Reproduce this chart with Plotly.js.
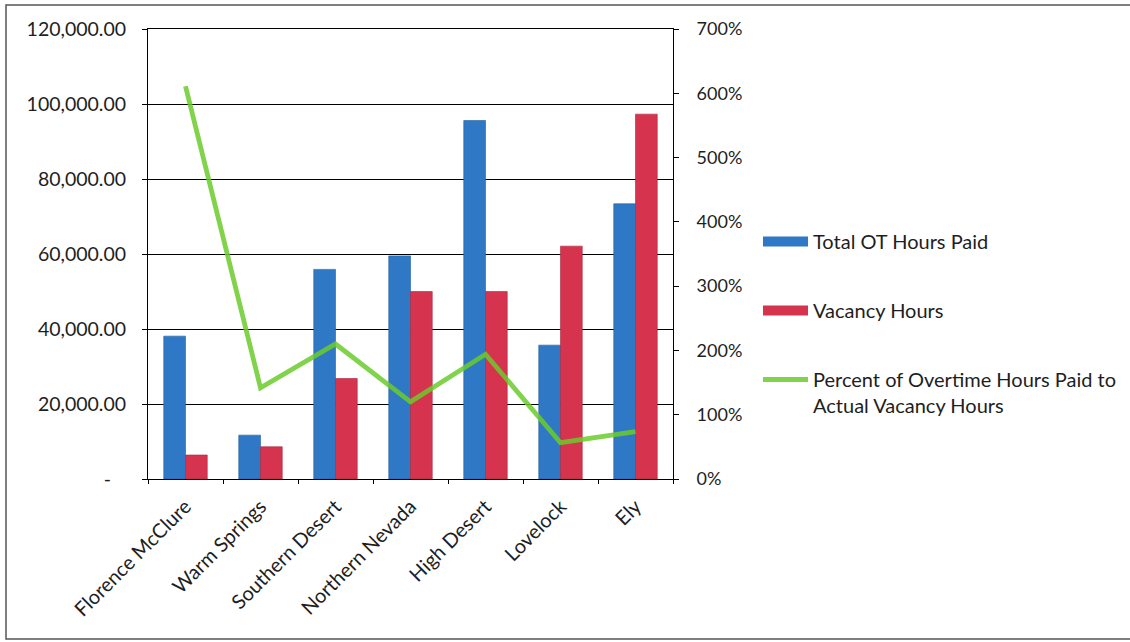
<!DOCTYPE html>
<html>
<head>
<meta charset="utf-8">
<script src="https://cdn.plot.ly/plotly-3.0.1.min.js"></script>
<style>
  html, body { margin: 0; padding: 0; background: #ffffff; }
  #chart { width: 1130px; height: 642px; }
</style>
</head>
<body>
<div id="chart"></div>
<script>
// Facilities compared
const facilities = ["Florence McClure", "Warm Springs", "Southern Desert", "Northern Nevada",
                    "High Desert", "Lovelock", "Ely"];

// Hours per facility
const otHoursPaid   = [38100, 11700, 55900, 59500, 95600, 35700, 73400];
const vacancyHours  = [6400, 8600, 26800, 50000, 50000, 62100, 97300];

// Overtime paid as a share of vacancy hours (1 = 100%)
const otToVacancy   = [6.11, 1.42, 2.10, 1.20, 1.94, 0.565, 0.736];

// Left axis labels (accounting style, zero shown as a dash)
const hourTicks     = [0, 20000, 40000, 60000, 80000, 100000, 120000];
const hourTickText  = ["-\u00a0\u00a0\u00a0", "20,000.00", "40,000.00", "60,000.00",
                       "80,000.00", "100,000.00", "120,000.00"];

const FONT = "Lato, 'Open Sans', sans-serif";
const INK = "#1e1e1e";
const W = 1130, H = 642;
const M = { l: 148, r: 457, t: 29, b: 163, autoexpand: false };
const plotW = W - M.l - M.r, plotH = H - M.t - M.b;
// pixel -> paper helpers for the legend and the outer frame
const px = x => (x - M.l) / plotW;
const py = y => (H - M.b - y) / plotH;

const BLUE = "#2f78c6", RED = "#d6334f", GREEN = "#6acb2a";

const traces = [
  {
    type: "bar", name: "Total OT Hours Paid",
    x: facilities, y: otHoursPaid,
    marker: { color: BLUE, line: { color: "#24609f", width: 0.6 } },
    legendgroup: "ot", showlegend: false, hoverinfo: "x+y"
  },
  {
    type: "bar", name: "Vacancy Hours",
    x: facilities, y: vacancyHours,
    marker: { color: RED, line: { color: "#a8283e", width: 0.6 } },
    legendgroup: "vac", showlegend: false, hoverinfo: "x+y"
  },
  {
    type: "scatter", mode: "lines",
    name: "Percent of Overtime Hours Paid to<br>Actual Vacancy Hours",
    x: facilities, y: otToVacancy, yaxis: "y2",
    line: { color: GREEN, width: 4.8 },
    opacity: 0.85,
    legendgroup: "pct", legendrank: 3, hoverinfo: "x+y"
  },
  // wide swatch legend keys for the two bar series (no visible points)
  {
    type: "scatter", mode: "lines", name: "Total OT Hours Paid",
    x: [facilities[0]], y: [null], line: { color: BLUE, width: 11 },
    legendgroup: "ot", legendrank: 1, hoverinfo: "skip"
  },
  {
    type: "scatter", mode: "lines", name: "Vacancy Hours",
    x: [facilities[0]], y: [null], line: { color: RED, width: 11 },
    legendgroup: "vac", legendrank: 2, hoverinfo: "skip"
  }
];

const layout = {
  width: W, height: H,
  margin: M,
  paper_bgcolor: "#ffffff",
  plot_bgcolor: "#ffffff",
  font: { family: FONT, size: 19, color: INK },
  barmode: "group",
  bargap: 0.42,
  bargroupgap: 0,
  showlegend: true,
  legend: {
    x: px(758), xanchor: "left",
    y: py(222), yanchor: "top",
    valign: "top",
    itemwidth: 45,
    tracegroupgap: 40,
    font: { family: FONT, size: 20, color: INK },
    bgcolor: "rgba(0,0,0,0)"
  },
  xaxis: {
    type: "category",
    tickangle: -45,
    showline: true, linecolor: "#000000", linewidth: 1, mirror: true,
    ticks: "outside", ticklen: 4, tickcolor: "#000000", tickson: "boundaries",
    ticklabelstandoff: 7,
    showgrid: false, zeroline: false,
    tickfont: { family: FONT, size: 20, color: INK }
  },
  yaxis: {
    range: [0, 120000],
    tickvals: hourTicks, ticktext: hourTickText,
    showline: true, linecolor: "#000000", linewidth: 1,
    ticks: "outside", ticklen: 5, tickcolor: "#000000",
    ticklabelstandoff: 12,
    showgrid: true, gridcolor: "#000000", gridwidth: 1,
    zeroline: false,
    tickfont: { family: FONT, size: 19.5, color: INK }
  },
  yaxis2: {
    overlaying: "y", side: "right",
    range: [0, 7],
    dtick: 1, tickformat: ".0%",
    showline: true, linecolor: "#000000", linewidth: 1,
    ticks: "outside", ticklen: 5, tickcolor: "#000000",
    ticklabelstandoff: 14,
    showgrid: false, zeroline: false,
    tickfont: { family: FONT, size: 18, color: INK }
  },
  shapes: [
    {
      type: "rect", xref: "paper", yref: "paper",
      x0: px(6), x1: px(1160), y0: py(639), y1: py(5),
      line: { color: "#555555", width: 1.5 },
      fillcolor: "rgba(0,0,0,0)", layer: "below"
    }
  ]
};

Plotly.newPlot("chart", traces, layout, { displayModeBar: false, staticPlot: true });
</script>
</body>
</html>
